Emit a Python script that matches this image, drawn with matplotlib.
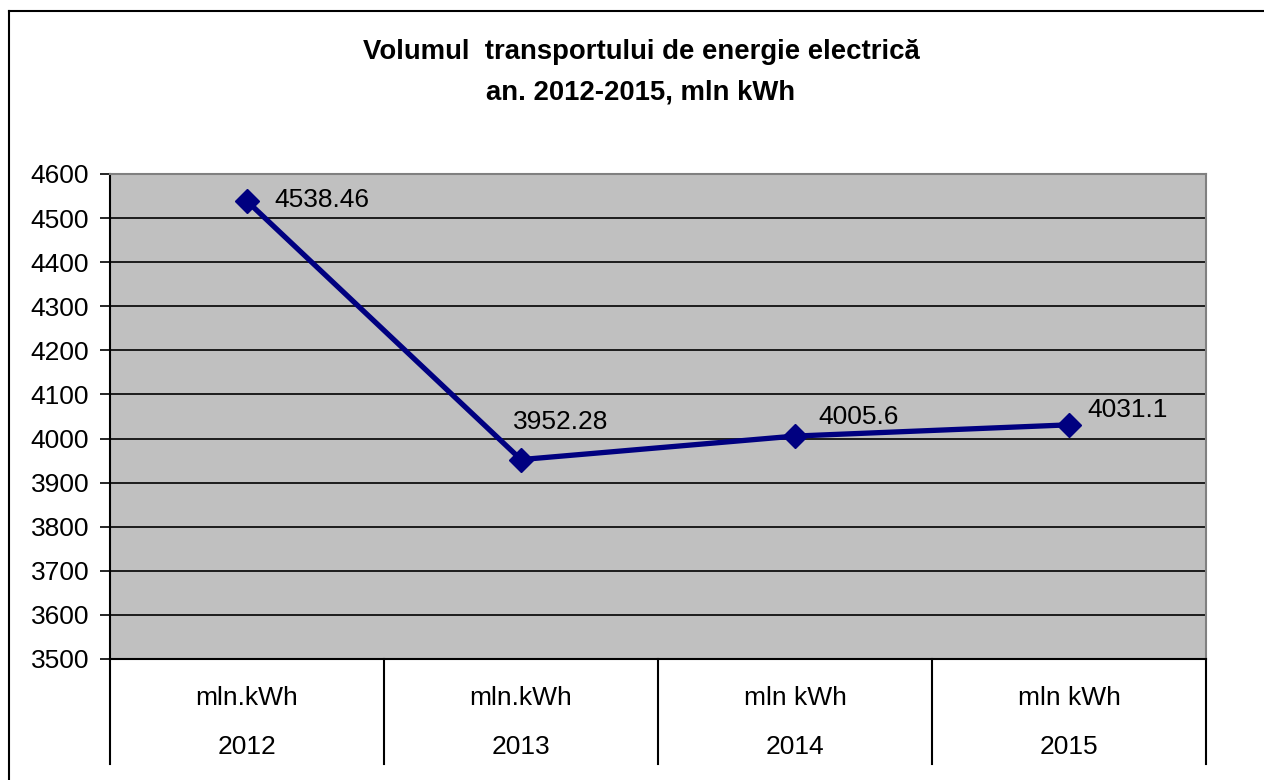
import matplotlib.pyplot as plt
from matplotlib.lines import Line2D
from matplotlib.transforms import blended_transform_factory

plt.rcParams['font.family'] = ['Liberation Sans', 'DejaVu Sans']

years = ['2012', '2013', '2014', '2015']
units = ['mln.kWh', 'mln.kWh', 'mln kWh', 'mln kWh']
values = [4538.46, 3952.28, 4005.6, 4031.1]
labels = ['4538.46', '3952.28', '4005.6', '4031.1']
# label offsets in points (dx, dy) from each marker
offsets = [(20, 1), (-6, 27), (17, 14), (13, 11)]

fs = 19

fig = plt.figure(figsize=(12.64, 7.8), dpi=100)
ax = fig.add_axes([110 / 1264, 1 - 659 / 780, 1096 / 1264, 485 / 780])
ax.set_facecolor('#c0c0c0')

x = list(range(len(years)))
ax.plot(x, values, color='#000080', lw=3.8, marker='D', markersize=12, zorder=3)
for i in x:
    ax.annotate(labels[i], (i, values[i]), xytext=offsets[i], textcoords='offset points',
                ha='left', va='center', fontsize=fs)

ax.set_xlim(-0.5, len(years) - 0.5)
ax.set_ylim(3500, 4600)
ax.set_yticks(range(3500, 4601, 100))
ax.yaxis.grid(True, color='black', lw=1.2)
ax.set_axisbelow(True)
ax.tick_params(axis='y', labelsize=fs, length=7, width=1.2, direction='out', pad=8)
ax.set_xticks([])
for s in ['top', 'right']:
    ax.spines[s].set_color('#808080')
    ax.spines[s].set_linewidth(1.5)
ax.spines['left'].set_linewidth(1.5)
ax.spines['bottom'].set_linewidth(1.5)

# multi-level category axis
tr = blended_transform_factory(ax.transData, ax.transAxes)
for i in x:
    ax.text(i, -39 / 485, units[i], transform=tr, ha='center', va='center', fontsize=fs)
    ax.text(i, -88 / 485, years[i], transform=tr, ha='center', va='center', fontsize=fs)
for b in range(len(years) + 1):
    ax.add_line(Line2D([b - 0.5, b - 0.5], [0, -105 / 485], transform=tr, color='black',
                       lw=1.5, clip_on=False))

fig.text(641 / 1264, 1 - 52 / 780, 'Volumul  transportului de energie electrică',
         ha='center', va='center', fontsize=19.8, fontweight='bold')
fig.text(641 / 1264, 1 - 92 / 780, 'an. 2012-2015, mln kWh',
         ha='center', va='center', fontsize=19.8, fontweight='bold')

# outer chart frame
fig.add_artist(Line2D([9 / 1264, 9 / 1264], [0, 1 - 11 / 780], color='black', lw=1.5))
fig.add_artist(Line2D([9 / 1264, 1], [1 - 11 / 780, 1 - 11 / 780], color='black', lw=1.5))

fig.savefig('out.png', dpi=100)
